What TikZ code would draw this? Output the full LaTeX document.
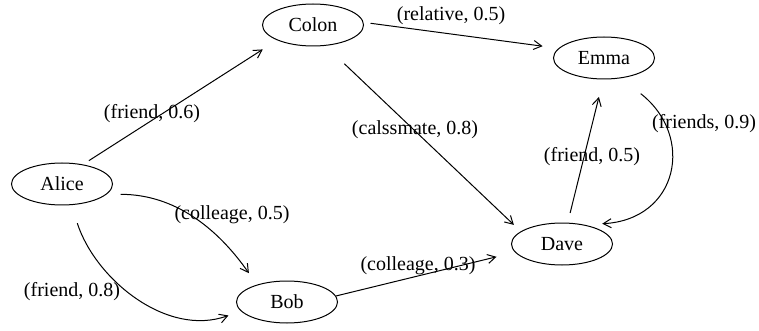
\documentclass[tikz,border=0pt]{standalone}
\usepackage{fontspec}
\setmainfont{Liberation Serif}
\usetikzlibrary{shapes,arrows.meta,calc}

\tikzset{
  person/.style={draw, ellipse, minimum width=50.5pt, minimum height=21pt, inner sep=0pt},
  rel/.style={->, line width=0.5pt},
}

\begin{document}
\begin{tikzpicture}[x=0.5pt,y=0.5pt,line width=0.5pt,>={Straight Barb[length=4pt,width=4.5pt]}]
            \useasboundingbox (0,0) rectangle (759,-331);
            \foreach \name/\x/\y in {Alice/62/184, Colon/313/25, Emma/604/58, Dave/562/244, Bob/287/302} {
                \node[person] (\name) at (\x,-\y) {\name} ;
            }
            \foreach \a/\oa/\b/\ib/\sa/\sb in {Alice/43/Colon/203/3.5/8.5, Colon/3/Emma/168/3.5/8, Colon/-59/Dave/163/13/4.7, Bob/7/Dave/190/0/9.5, Dave/75/Emma/268/5/9} {
                \draw [rel, shorten <=\sa pt, shorten >=\sb pt] (\a.\oa) -- (\b.\ib);
            }
            \draw [rel, shorten <=7pt, shorten >=7pt] (Alice.-13) to[out=0,in=125] (Bob.150);
            \draw [rel, shorten <=9.5pt, shorten >=6.5pt] (Alice.-66) to[out=-72,in=200] (Bob.191);
            \draw [rel, shorten <=12.5pt, shorten >=9pt] (Emma.-50) to[out=-38,in=3,looseness=1.6] (Dave.41);
            \foreach \t/\x/\y [count=\n] in {{(friend, 0.6)}/152/114, {(relative, 0.5)}/451/16, {(calssmate, 0.8)}/415/130, {(colleage, 0.5)}/232/215, {(friend, 0.8)}/72/292, {(colleage, 0.3)}/418/266, {(friend, 0.5)}/592/157, {(friends, 0.9)}/704/124} {
                \node (L\n) at (\x,-\y) {\t} ;
            }
\end{tikzpicture}
\end{document}
